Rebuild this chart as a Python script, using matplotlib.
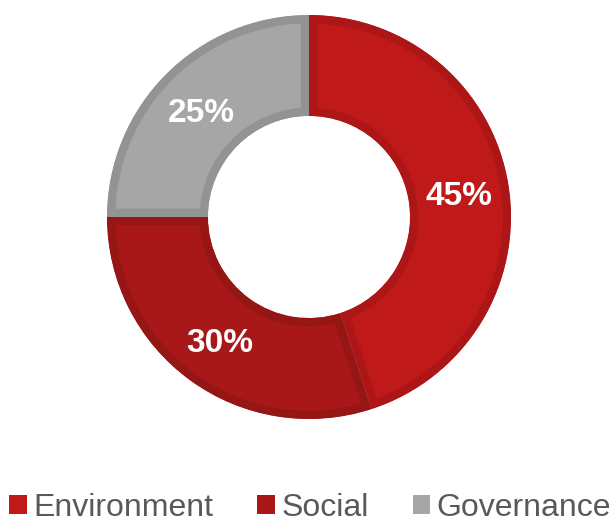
import matplotlib
matplotlib.use("Agg")
import matplotlib.pyplot as plt
from matplotlib.patches import Patch, Wedge
import numpy as np

categories = ["Environment", "Social", "Governance"]
values = [45, 30, 25]
labels = ["45%", "30%", "25%"]
fill_colors = ["#C0191A", "#A81818", "#A6A6A6"]
edge_colors = ["#AD1617", "#961515", "#939393"]

W, H = 609, 517
fig = plt.figure(figsize=(W / 100, H / 100), dpi=100)
cx, cy, R = 309, 300, 202
ax = fig.add_axes([(cx - R) / W, (cy - R) / H, 2 * R / W, 2 * R / H])

wedges, _ = ax.pie(values, startangle=90, counterclock=False, colors=fill_colors,
                   radius=1.0, wedgeprops=dict(width=0.5, linewidth=0))
for w, ec in zip(wedges, edge_colors):
    clip = Wedge(w.center, w.r, w.theta1, w.theta2, width=w.width)
    clip.set_transform(ax.transData)
    w.set_edgecolor(ec)
    w.set_linewidth(12)
    w.set_clip_on(True)
    w.set_clip_path(clip)

start = 90.0
total = sum(values)
for v, lab in zip(values, labels):
    mid = np.deg2rad(start - v / total * 360 / 2)
    start -= v / total * 360
    ax.text(0.75 * np.cos(mid), 0.75 * np.sin(mid), lab, ha="center", va="center_baseline",
            color="white", fontsize=24, fontweight="bold", family="Liberation Sans")

ax.set_xlim(-1, 1)
ax.set_ylim(-1, 1)
ax.set_aspect("equal")
ax.axis("off")

handles = [Patch(facecolor=c, edgecolor="none") for c in fill_colors]
leg = fig.legend(handles, categories, loc="lower center", bbox_to_anchor=(310 / W, -6 / H),
                 ncol=3, frameon=False, prop=dict(family="Liberation Sans", size=23),
                 handlelength=0.55, handleheight=0.55, handletextpad=0.2,
                 columnspacing=1.38, labelcolor="#595959", borderaxespad=0, borderpad=0)

fig.savefig("out.png", dpi=100)
